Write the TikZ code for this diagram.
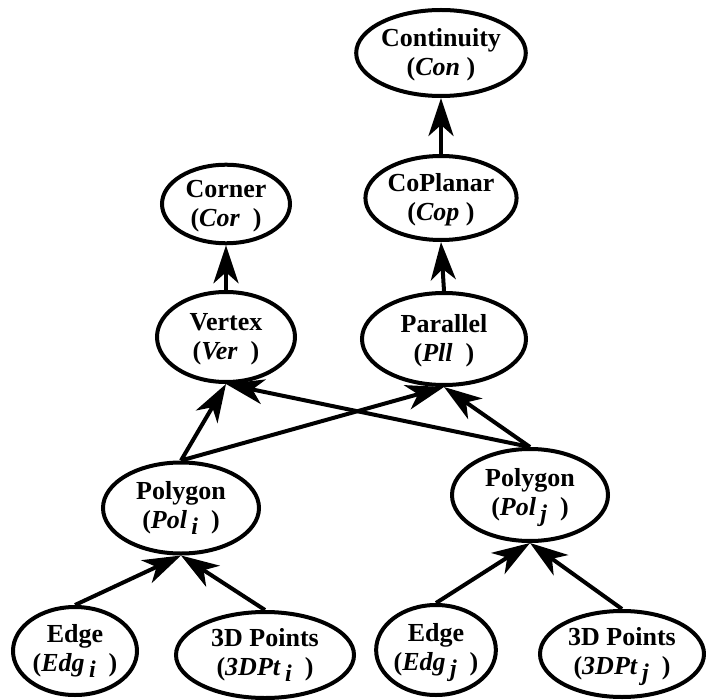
\documentclass[tikz,border=0pt]{standalone}
\usepackage{fontspec}
\setmainfont{Liberation Serif}
\usetikzlibrary{shapes.geometric,arrows.meta}
\newcommand{\subx}[1]{\raisebox{-6pt}[0pt][0pt]{\fontsize{24}{24}\selectfont\itshape #1}}
\newcommand{\tp}{\rule{0pt}{21pt}}
\tikzset{
  ell/.style={ellipse, draw, line width=4pt, inner sep=0pt, align=center,
    font=\fontsize{26}{29}\selectfont\bfseries},
  arr/.style={line width=4pt, -{Stealth[length=38pt, width=25pt, inset=11pt]}}
}
\begin{document}
\begin{tikzpicture}[x=1pt,y=-1pt]
\useasboundingbox (0,0) rectangle (706,700);
\node[ell, minimum width=148pt, minimum height=86pt] (con) at (441,53) {\tp Continuity\\(\textit{Con} )};
\node[ell, minimum width=148pt, minimum height=84pt] (cop) at (441,198) {\tp CoPlanar\\(\textit{Cop} )};
\node[ell, minimum width=128pt, minimum height=76pt] (cor) at (226,204) {\tp Corner\\(\textit{Cor}~ )};
\node[ell, minimum width=138pt, minimum height=90pt] (ver) at (226,337) {\tp Vertex\\(\textit{Ver}~ )};
\node[ell, minimum width=164pt, minimum height=92pt] (pll) at (444,339) {\tp Parallel\\(\textit{Pll}~ )};
\node[ell, minimum width=156pt, minimum height=91pt] (poli) at (181,508) {Polygon\\(\textit{Pol}\,\subx{i}~ )};
\node[ell, minimum width=156pt, minimum height=92pt] (polj) at (530,495) {Polygon\\(\textit{Pol}\,\subx{j}~ )};
\node[ell, minimum width=124pt, minimum height=88pt] (edgi) at (75,651) {Edge\\(\textit{Edg}\,\subx{i}~ )};
\node[ell, minimum width=178pt, minimum height=86pt] (pti) at (265,655) {3D Points\\(\textit{3DPt}\,\subx{i}~ )};
\node[ell, minimum width=118pt, minimum height=90pt] (edgj) at (436,650) {Edge\\(\textit{Edg}\,\subx{j}~ )};
\node[ell, minimum width=164pt, minimum height=86pt] (ptj) at (622,654) {3D Points\\(\textit{3DPt}\,\subx{j}~ )};
\draw[arr] (cop.north) -- (con.south);
\draw[arr] (pll.north) -- (cop.south);
\draw[arr] (ver.north) -- (cor.south);
\draw[arr] (poli.north) -- (ver.south);
\draw[arr] (poli.north) -- (pll.south);
\draw[arr] (polj.north) -- (ver.south);
\draw[arr] (polj.north) -- (pll.south);
\draw[arr] (edgi.north) -- (poli.south);
\draw[arr] (pti.north) -- (poli.south);
\draw[arr] (edgj.north) -- (polj.south);
\draw[arr] (ptj.north) -- (polj.south);
\end{tikzpicture}
\end{document}
